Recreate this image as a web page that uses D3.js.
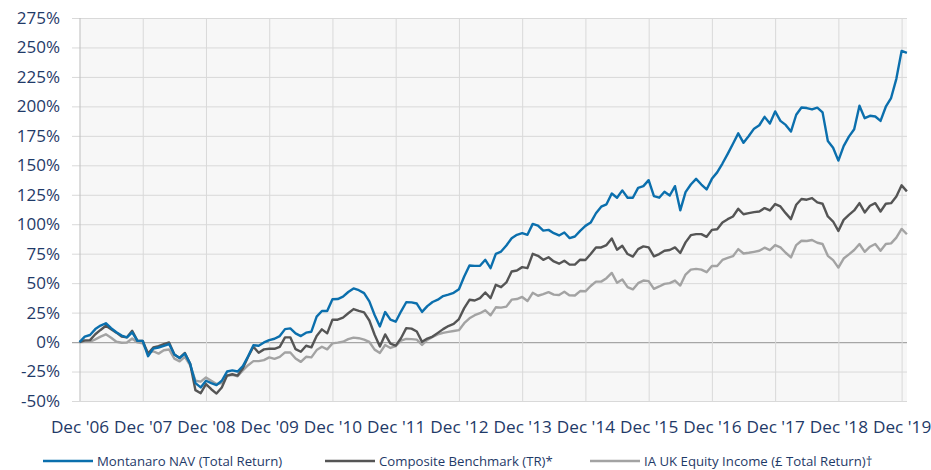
<!DOCTYPE html>
<html>
<head>
<meta charset="utf-8">
<script src="https://cdn.jsdelivr.net/npm/d3@7"></script>
<style>
  body { margin: 0; background: #fff; }
  text { font-family: "Open Sans", sans-serif; }
</style>
</head>
<body>
<div id="chart"></div>
<script>
// monthly values, Dec 2006 (index 0) to Jan 2020
const yearLabels = ["Dec '06", "Dec '07", "Dec '08", "Dec '09", "Dec '10", "Dec '11", "Dec '12",
    "Dec '13", "Dec '14", "Dec '15", "Dec '16", "Dec '17", "Dec '18", "Dec '19"];
const yTicks = [-50, -25, 0, 25, 50, 75, 100, 125, 150, 175, 200, 225, 250, 275];
const seriesNames = ["Montanaro NAV (Total Return)", "Composite Benchmark (TR)*", "IA UK Equity Income (£ Total Return)†"];

const montanaro = [0, 4.6, 6, 11, 14, 16, 11.8, 8.3, 5.5, 4, 8.3, 1,
    1, -12, -5.5, -4.6, -3.2, -1.7, -10.6, -13.5, -9.8, -18.4, -34.8, -38.5,
    -32.8, -34.8, -36.5, -32.8, -25, -24, -25, -20.4, -12, -2.6, -3.1, -0.3,
    1.7, 2.8, 5.1, 11, 11.6, 7.4, 5.1, 8, 8.8, 21.6, 26.4, 26.4,
    36.4, 36.5, 38.5, 42.5, 45.5, 44, 41.5, 34.5, 23, 13.3, 25.5, 19,
    17.3, 25.9, 33.8, 33.7, 32.7, 25.6, 30.5, 34, 36, 39, 40.3, 41.8,
    44.9, 55.6, 65, 64.7, 64.7, 69.8, 62.7, 74.9, 76.8, 81.9, 88.1, 91,
    92.4, 91, 100.3, 98.9, 94.6, 95.2, 92.4, 90.5, 93, 88.2, 89.6, 94.4,
    98.6, 101.4, 109.3, 114.9, 116.9, 126.1, 122.5, 128.7, 122.5, 122.5, 130.9, 132.3,
    137.4, 123.9, 122.5, 127.5, 124.4, 132.3, 111.8, 127.2, 133.7, 138.5, 133.7, 129.5,
    138.5, 144, 151.5, 159.7, 168.3, 177.1, 169.1, 174.9, 181.1, 184, 191.1, 185.4,
    195.7, 187.7, 184.3, 178.6, 192.9, 199.1, 198.6, 197.4, 198.9, 194.9, 170.6, 164.9,
    154, 166.3, 174.3, 180.6, 200.6, 190, 192, 191.4, 187.7, 199.7, 207.1, 223.4,
    247.1, 245.4];

const benchmark = [0, 1.4, 1.7, 6.6, 10.3, 13.8, 10.9, 8, 4.6, 4, 9.5, 1,
    1, -9.8, -4.6, -3.4, -1.7, -0.3, -10.6, -13.5, -9.2, -18.4, -40.8, -43.4,
    -35.6, -40, -43.7, -38.5, -28.4, -27.3, -28.4, -22.2, -12.5, -4, -9, -6.2,
    -5.7, -5.7, -4, 4, 4, -6, -8.2, -3.1, -4.5, 5.1, 10.8, 7.4,
    19, 19, 20.8, 24.5, 28, 26.5, 25.2, 18.3, 6.2, -3.8, 6.5, -1.3,
    -3, 3.2, 11.8, 11.4, 9, 0.2, 3, 4.7, 7.8, 11, 13.6, 15.4,
    19.5, 28.8, 35.9, 35.3, 37.3, 42.1, 37.3, 48.6, 46.6, 50.6, 59.9, 60.7,
    63.6, 62.7, 74.9, 73.2, 69.8, 72, 68.4, 66.5, 69, 65.7, 65.7, 69.9,
    69.7, 74.7, 80.3, 80.3, 82.3, 87.9, 78.4, 81.7, 74.7, 72.5, 78.9, 81.2,
    80.3, 72.8, 74.7, 77.5, 78.1, 80.3, 75.6, 84.6, 90.7, 91.6, 91.6, 89.3,
    95.2, 95.7, 101.5, 104.3, 106.6, 113.1, 108.5, 109.4, 110.3, 110.8, 113.7, 111.7,
    117.1, 115.1, 109.4, 104.3, 116.5, 121.4, 120.8, 122.2, 118.5, 117.4, 106.6, 102.3,
    94.3, 103.7, 108, 111.7, 117.9, 110, 115.7, 117.9, 110.8, 117.4, 117.9, 123.6,
    133, 127.9];

const sector = [0, 0.3, 0.3, 2.3, 4.6, 6.6, 3.7, 0.3, -0.6, -0.3, 3, -0.3,
    -1.1, -8.9, -7.8, -9.8, -6.9, -6.3, -14, -16.4, -12.6, -19.8, -32.8, -33.6,
    -30, -32.8, -35.6, -34.8, -28.4, -27.9, -29, -24, -19.6, -16.2, -16.2, -15.3,
    -13, -14.2, -12.5, -8.8, -8.8, -13.9, -16.8, -12.5, -13, -6.8, -4, -6.2,
    -1.1, -0.5, 0.3, 2.5, 3.8, 3.3, 2.1, 0.1, -6.4, -9.2, -2.5, -5,
    -3.4, 1.2, 2.7, 2.5, 2.1, -2.4, 1.9, 4.4, 6.5, 7.8, 8.6, 9.4,
    10.1, 16, 20.2, 22.8, 24.5, 27, 22.7, 29.5, 29.2, 30.1, 36, 36.5,
    38.3, 34.8, 41.8, 39.3, 40.7, 42.4, 40.3, 40, 42.7, 39.6, 39.5, 43.3,
    43.1, 47.6, 51.3, 51.3, 54.2, 58.7, 50.3, 53.1, 46.6, 44.7, 50, 52.2,
    51.7, 45.2, 47.2, 49.4, 50, 52.2, 48, 57.3, 61.5, 62.1, 61.5, 59.3,
    64.6, 64.6, 69.7, 71.5, 72.9, 78.9, 75.2, 75.8, 76.6, 77.5, 80.1, 78.1,
    82.3, 80.3, 75.8, 71.8, 82.3, 86, 85.8, 86.6, 84.3, 83.2, 73.2, 69.5,
    63.2, 70.9, 74.4, 78.1, 83.2, 76.6, 80.9, 83.2, 77.5, 83.2, 83.8, 88.6,
    96, 91.5];

const colors = ["#0B6FAD", "#555555", "#A3A3A3"];
const navy = "#1F3A68";

const chartWidth = 931, chartHeight = 470;
const plotLeft = 79.5, plotRight = 907, plotTop = 18, plotBottom = 401;

var svg = d3.select("#chart").append("svg")
    .attr("width", chartWidth)
    .attr("height", chartHeight);

var x = d3.scaleLinear().domain([0, 157]).range([plotLeft, plotLeft + 157 * 5.27]);
var y = d3.scaleLinear().domain([-50, 275]).range([plotBottom, plotTop]);

// plot background
svg.append("rect")
    .attr("x", plotLeft).attr("y", plotTop)
    .attr("width", plotRight - plotLeft).attr("height", plotBottom - plotTop)
    .attr("fill", "#F7F7F7");

// horizontal grid + y labels
var yAxis = svg.append("g")
    .attr("transform", "translate(" + plotRight + ",0)")
    .call(d3.axisLeft(y).tickValues(yTicks).tickSize(plotRight - 72).tickFormat(d => d + "%"));
yAxis.select(".domain").remove();
yAxis.selectAll("line")
    .attr("stroke", d => d === 0 ? "#A6A6A6" : "#D9D9D9")
    .attr("stroke-width", d => d === 0 ? 1.3 : 1);
yAxis.selectAll("text")
    .attr("x", -(plotRight - 60))
    .attr("fill", navy)
    .style("font-size", "17px");

// vertical grid + x labels
var xAxis = svg.append("g")
    .attr("transform", "translate(0," + plotBottom + ")")
    .call(d3.axisBottom(x).tickValues(d3.range(0, 157, 12)).tickSize(-(plotBottom - plotTop))
        .tickFormat((d, i) => yearLabels[i]));
xAxis.select(".domain").remove();
xAxis.selectAll("line").attr("stroke", (d, i) => i === 0 ? "#BFBFBF" : "#D9D9D9");
xAxis.selectAll("text")
    .attr("y", 20)
    .attr("fill", navy)
    .style("font-size", "17.2px");

// series lines
var allSeries = [sector, benchmark, montanaro];
var allColors = [colors[2], colors[1], colors[0]];
var line = d3.line().x((d, i) => x(i)).y(d => y(d));

svg.selectAll("path.series")
    .data(allSeries)
    .enter()
    .append("path")
    .attr("class", "series")
    .attr("d", line)
    .attr("fill", "none")
    .attr("stroke", (d, i) => allColors[i])
    .attr("stroke-width", 2.4)
    .attr("stroke-linejoin", "round");

// legend
const legendX = [43, 325, 590];
var legend = svg.selectAll("g.legend")
    .data(seriesNames)
    .enter()
    .append("g")
    .attr("class", "legend")
    .attr("transform", (d, i) => "translate(" + legendX[i] + ",461)");
legend.append("line")
    .attr("x1", 0).attr("x2", 50)
    .attr("stroke", (d, i) => colors[i])
    .attr("stroke-width", 2.5);
legend.append("text")
    .attr("x", 54)
    .attr("y", 4.5)
    .attr("fill", navy)
    .style("font-size", "13.2px")
    .text(d => d);
</script>
</body>
</html>
